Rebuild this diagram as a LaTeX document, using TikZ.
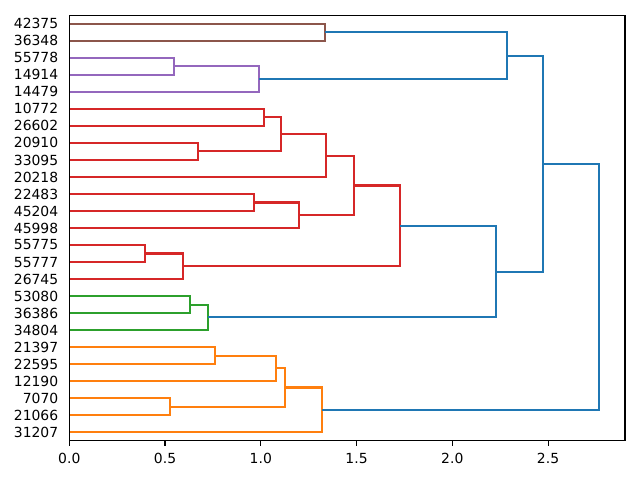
\documentclass[tikz,border=0pt]{standalone}
\usepackage{fontspec}
\setmainfont{DejaVu Sans}

\definecolor{cblue}{HTML}{1F77B4}
\definecolor{corange}{HTML}{FF7F0E}
\definecolor{cgreen}{HTML}{2CA02C}
\definecolor{cred}{HTML}{D62728}
\definecolor{cpurple}{HTML}{9467BD}
\definecolor{cbrown}{HTML}{8C564B}

% U-shaped link: colour, child a, child b, merge point
\newcommand{\dlink}[4]{\draw[link, #1] (#2) -- (#2 -| #4) -- (#4 |- #3) -- (#3);}

\begin{document}
\begin{tikzpicture}[x=4.7875cm, y=0.4254cm,
    link/.style={line width=1.48pt},
    frame/.style={line width=0.79pt}]

  \useasboundingbox (-1.7325cm,-0.9825cm) rectangle (14.2675cm,11.0175cm);

  % leaves and labels
  \foreach \lab [count=\i from 0] in {31207,21066,7070,12190,22595,21397,34804,36386,53080,26745,55777,55775,45998,45204,22483,20218,33095,20910,26602,10772,14479,14914,55778,36348,42375} {
    \coordinate (L\i) at (0,\i+0.5);
    \node[anchor=east, inner sep=0pt, font=\fontsize{9.9}{12}\selectfont] (t\i) at ([xshift=-0.27cm]L\i) {\lab};
  }

  % merge points
  \coordinate (o1) at (0.761,5.0);
  \coordinate (o2) at (1.079,4.25);
  \coordinate (o3) at (0.527,2.0);
  \coordinate (o4) at (1.127,3.125);
  \coordinate (o5) at (1.320,1.8125);
  \coordinate (g1) at (0.630,8.0);
  \coordinate (g2) at (0.724,7.25);
  \coordinate (r1) at (0.395,11.0);
  \coordinate (r2) at (0.592,10.25);
  \coordinate (r3) at (0.966,14.0);
  \coordinate (r4) at (1.199,13.25);
  \coordinate (r5) at (1.017,19.0);
  \coordinate (r6) at (0.672,17.0);
  \coordinate (r7) at (1.105,18.0);
  \coordinate (r8) at (1.339,16.75);
  \coordinate (r9) at (1.486,15.0);
  \coordinate (r10) at (1.727,12.625);
  \coordinate (p1) at (0.547,22.0);
  \coordinate (p2) at (0.991,21.25);
  \coordinate (b1) at (1.335,24.0);
  \coordinate (c1) at (2.228,9.9375);
  \coordinate (c2) at (2.287,22.625);
  \coordinate (c3) at (2.474,16.28);
  \coordinate (c4) at (2.766,9.05);

  \dlink{corange}{L5}{L4}{o1}
  \dlink{corange}{o1}{L3}{o2}
  \dlink{corange}{L2}{L1}{o3}
  \dlink{corange}{o2}{o3}{o4}
  \dlink{corange}{o4}{L0}{o5}

  \dlink{cgreen}{L8}{L7}{g1}
  \dlink{cgreen}{g1}{L6}{g2}

  \dlink{cred}{L11}{L10}{r1}
  \dlink{cred}{r1}{L9}{r2}
  \dlink{cred}{L14}{L13}{r3}
  \dlink{cred}{r3}{L12}{r4}
  \dlink{cred}{L19}{L18}{r5}
  \dlink{cred}{L17}{L16}{r6}
  \dlink{cred}{r5}{r6}{r7}
  \dlink{cred}{r7}{L15}{r8}
  \dlink{cred}{r8}{r4}{r9}
  \dlink{cred}{r9}{r2}{r10}

  \dlink{cpurple}{L22}{L21}{p1}
  \dlink{cpurple}{p1}{L20}{p2}

  \dlink{cbrown}{L24}{L23}{b1}

  \dlink{cblue}{r10}{g2}{c1}
  \dlink{cblue}{b1}{p2}{c2}
  \dlink{cblue}{c2}{c1}{c3}
  \dlink{cblue}{c3}{o5}{c4}

  % axes
  \draw[frame] (0,0) rectangle (2.902,25);
  \foreach \x in {0.0,0.5,1.0,1.5,2.0,2.5}
    \draw[frame] (\x,0) -- ++(0,-0.1215cm)
      node[anchor=north, inner sep=0pt, yshift=-0.18cm, font=\fontsize{9.9}{12}\selectfont] {\x};
\end{tikzpicture}
\end{document}
